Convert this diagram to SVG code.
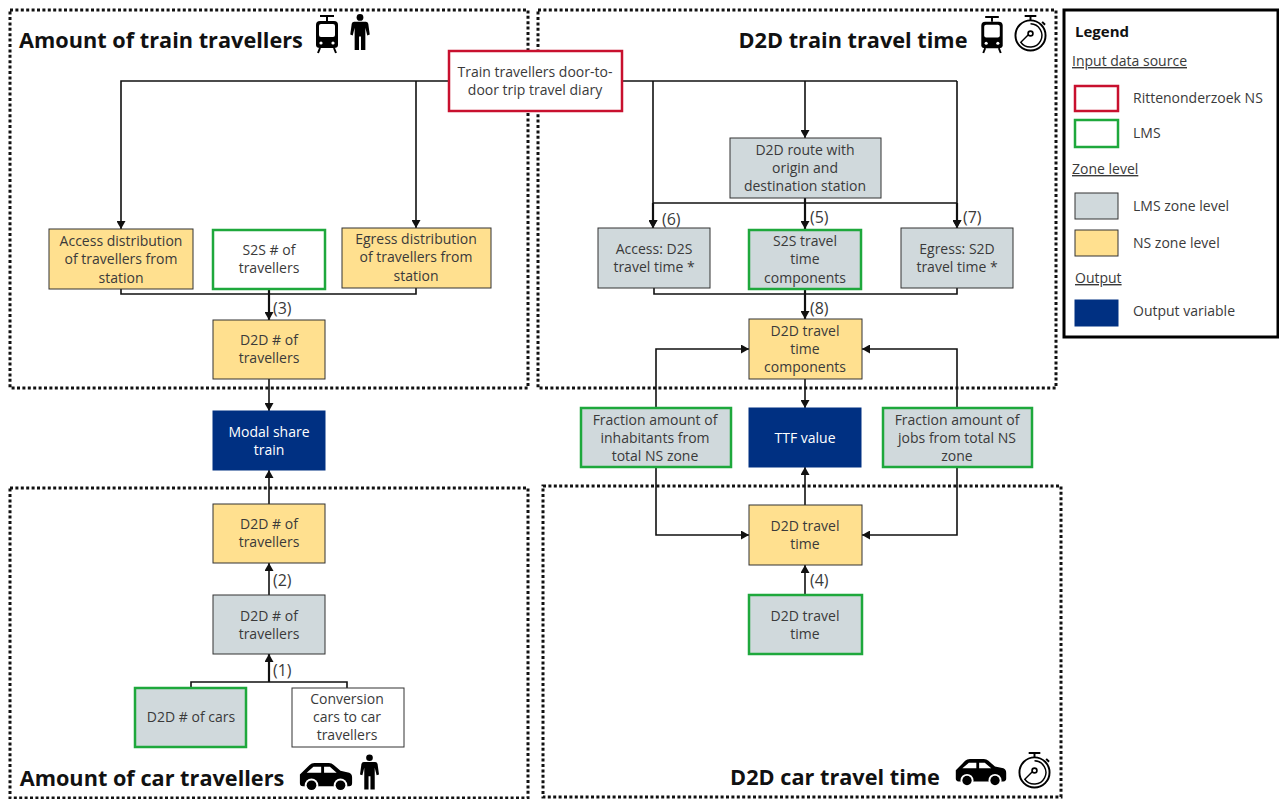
<svg xmlns="http://www.w3.org/2000/svg" width="1279" height="799" viewBox="0 0 1279 799">
<style>
text{font-family:"Open Sans","Noto Sans","Liberation Sans",sans-serif;font-size:14px;fill:#3a3a3a;text-anchor:middle}
.t{font-size:21.7px;font-weight:700;fill:#111}
.w{fill:#fff}
.l{text-anchor:start}
.u{text-anchor:start;text-decoration:underline}
.n{font-size:16px;text-anchor:start}
.panel{fill:none;stroke:#111;stroke-width:3;stroke-dasharray:3 2.4}
.y{fill:#ffe08f;stroke:#333;stroke-width:1}
.g{fill:#d0d9dc;stroke:#333;stroke-width:1}
.b{fill:#fff;stroke:#333;stroke-width:1}
.nv{fill:#003082;stroke:#003082}
.gr{stroke:#1ea83c;stroke-width:2.5}
.rd{stroke:#c8102e;stroke-width:2.5}
.c{fill:none;stroke:#111;stroke-width:1.6}
.a{fill:none;stroke:#111;stroke-width:1.6;marker-end:url(#arr)}
.k{stroke-width:2.2}
</style>
<defs>
<marker id="arr" markerUnits="userSpaceOnUse" markerWidth="9" markerHeight="9" refX="8" refY="4.5" orient="auto"><path d="M0 0L8 4.5L0 9z" fill="#111"/></marker>
<symbol id="train" viewBox="0 0 24 38" overflow="visible"><path d="M5 1H19M12 1V6" fill="none" stroke="#000" stroke-width="2"/><path d="M5 6H19Q23 6 23 10V30Q23 33 19 33H5Q1 33 1 30V10Q1 6 5 6Z" fill="#000"/><rect x="4" y="9" width="16" height="13" rx="2" fill="#fff"/><circle cx="6" cy="28" r="1.6" fill="#fff"/><circle cx="18" cy="28" r="1.6" fill="#fff"/><path d="M5 33L3 38M19 33L21 38" stroke="#000" stroke-width="2"/></symbol>
<symbol id="person" viewBox="0 0 20 38" overflow="visible"><circle cx="10" cy="3.5" r="3.5" fill="#000"/><path d="M4 8H16Q18 8 18.500 10L20 21L17.500 22L15.500 14V37H11V23H9V37H4.500V14L2.500 22L0 21L1.500 10Q2 8 4 8Z" fill="#000"/></symbol>
<symbol id="car" viewBox="0 0 56 30" overflow="visible"><path d="M1 12L11 2Q13 0 16 0H31Q34 0 36 2L43 8L52 10Q55 11 55 15V21Q55 24 52 24H4Q1 24 1 21Z" fill="#000"/><path d="M8 10L15 4H23V10ZM26 4H32L39 10H26Z" fill="#fff"/><circle cx="13" cy="23" r="7" fill="#fff"/><circle cx="13" cy="23" r="5" fill="#000"/><circle cx="43" cy="23" r="7" fill="#fff"/><circle cx="43" cy="23" r="5" fill="#000"/></symbol>
<symbol id="timer" viewBox="0 0 34 38" overflow="visible"><path d="M11 1H23M17 1V5M29 7L32 10" fill="none" stroke="#000" stroke-width="2"/><circle cx="17" cy="21" r="15.500" fill="none" stroke="#000" stroke-width="2"/><path d="M17 9A12 12 0 1 1 7 28L15 20" fill="none" stroke="#000" stroke-width="1.500"/><circle cx="17" cy="19" r="2.500" fill="none" stroke="#000" stroke-width="1.700"/></symbol>
</defs>

<g id="panels">
<rect class="panel" x="10" y="10" width="518" height="378"/>
<rect class="panel" x="538" y="10" width="518" height="378"/>
<rect class="panel" x="10" y="488" width="518" height="310"/>
<rect class="panel" x="543" y="486" width="518" height="311"/>
<text class="t" x="161" y="47.500">Amount of train travellers</text>
<text class="t" x="853" y="47.500">D2D train travel time</text>
<text class="t" x="152" y="786">Amount of car travellers</text>
<text class="t" x="835" y="785">D2D car travel time</text>
<use href="#train" x="315" y="15" width="24" height="38"/>
<use href="#person" x="350" y="14" width="20" height="37"/>
<use href="#train" x="980" y="16" width="24" height="37"/>
<use href="#timer" x="1014" y="15" width="33" height="37"/>
<use href="#car" x="298" y="763" width="56" height="29"/>
<use href="#person" x="360" y="754" width="19" height="37"/>
<use href="#car" x="953" y="759" width="56" height="28"/>
<use href="#timer" x="1018" y="752" width="33" height="37"/>
</g>

<g id="connectors">
<path class="a" d="M449 81H121V229"/>
<path class="a" d="M416 81V228"/>
<path class="c" d="M622 81H957"/>
<path class="a" d="M653 81V228"/>
<path class="a" d="M805 81V138"/>
<path class="a" d="M957 81V228"/>
<path class="c" d="M653 203H957"/>
<path class="a k" d="M653 203V228"/>
<path class="a k" d="M957 203V228"/>
<path class="a k" d="M805 198V229"/>
<path class="c" d="M121 289V294H416V288"/>
<path class="a k" d="M269 289V320"/>
<path class="a" d="M269 379V411"/>
<path class="a" d="M269 504V470"/>
<path class="a" d="M269 595V563"/>
<path class="a k" d="M269 682V654"/>
<path class="c" d="M191 688V682H347V688"/>
<path class="c" d="M654 288V294H957V288"/>
<path class="a k" d="M805 289V319"/>
<path class="a" d="M805 379V408"/>
<path class="a" d="M656 408V349H749"/>
<path class="a" d="M957 408V349H862"/>
<path class="a" d="M656 467V535H749"/>
<path class="a" d="M957 467V535H862"/>
<path class="a" d="M805 505V467"/>
<path class="a" d="M805 595V565"/>
<text class="n" x="273" y="314">(3)</text>
<text class="n" x="273" y="586">(2)</text>
<text class="n" x="273" y="676">(1)</text>
<text class="n" x="662" y="225">(6)</text>
<text class="n" x="810" y="223">(5)</text>
<text class="n" x="963" y="223">(7)</text>
<text class="n" x="810" y="314">(8)</text>
<text class="n" x="810" y="586">(4)</text>
</g>

<g id="n-diary"><rect class="b rd" x="449" y="51" width="173" height="60"/><text x="535" y="77">Train travellers door-to-</text><text x="535" y="95">door trip travel diary</text></g>
<g id="n-access-dist"><rect class="y" x="49" y="229" width="144" height="60"/><text x="121" y="246">Access distribution</text><text x="121" y="264">of travellers from</text><text x="121" y="283">station</text></g>
<g id="n-s2s-count"><rect class="b gr" x="213" y="230" width="112" height="59"/><text x="269" y="255">S2S # of</text><text x="269" y="273">travellers</text></g>
<g id="n-egress-dist"><rect class="y" x="342" y="228" width="149" height="60"/><text x="416" y="244">Egress distribution</text><text x="416" y="262">of travellers from</text><text x="416" y="281">station</text></g>
<g id="n-d2d-train"><rect class="y" x="213" y="320" width="112" height="59"/><text x="269" y="345">D2D # of</text><text x="269" y="363">travellers</text></g>
<g id="n-modal"><rect class="nv" x="213" y="411" width="112" height="59"/><text class="w" x="269" y="437">Modal share</text><text class="w" x="269" y="455">train</text></g>
<g id="n-d2d-car-ns"><rect class="y" x="213" y="504" width="112" height="59"/><text x="269" y="529">D2D # of</text><text x="269" y="547">travellers</text></g>
<g id="n-d2d-car-lms"><rect class="g" x="213" y="595" width="112" height="59"/><text x="269" y="621">D2D # of</text><text x="269" y="639">travellers</text></g>
<g id="n-cars"><rect class="g gr" x="135" y="688" width="111" height="59"/><text x="191" y="722">D2D # of cars</text></g>
<g id="n-conversion"><rect class="b" x="292" y="688" width="112" height="59"/><text x="347" y="704">Conversion</text><text x="347" y="722">cars to car</text><text x="347" y="740">travellers</text></g>
<g id="n-route"><rect class="g" x="730" y="138" width="151" height="60"/><text x="805" y="155">D2D route with</text><text x="805" y="173">origin and</text><text x="805" y="191">destination station</text></g>
<g id="n-access-time"><rect class="g" x="598" y="228" width="112" height="60"/><text x="654" y="254">Access: D2S</text><text x="654" y="272">travel time *</text></g>
<g id="n-s2s-time"><rect class="g gr" x="749" y="230" width="112" height="59"/><text x="805" y="246">S2S travel</text><text x="805" y="264">time</text><text x="805" y="283">components</text></g>
<g id="n-egress-time"><rect class="g" x="901" y="228" width="112" height="60"/><text x="957" y="254">Egress: S2D</text><text x="957" y="272">travel time *</text></g>
<g id="n-d2d-comp"><rect class="y" x="749" y="319" width="113" height="60"/><text x="805" y="336">D2D travel</text><text x="805" y="354">time</text><text x="805" y="372">components</text></g>
<g id="n-frac-inh"><rect class="g gr" x="581" y="408" width="150" height="59"/><text x="655" y="425">Fraction amount of</text><text x="655" y="443">inhabitants from</text><text x="655" y="461">total NS zone</text></g>
<g id="n-ttf"><rect class="nv" x="749" y="408" width="112" height="59"/><text class="w" x="805" y="443">TTF value</text></g>
<g id="n-frac-jobs"><rect class="g gr" x="883" y="408" width="149" height="59"/><text x="957" y="425">Fraction amount of</text><text x="957" y="443">jobs from total NS</text><text x="957" y="461">zone</text></g>
<g id="n-car-time-ns"><rect class="y" x="749" y="505" width="113" height="60"/><text x="805" y="531">D2D travel</text><text x="805" y="549">time</text></g>
<g id="n-car-time-lms"><rect class="g gr" x="749" y="595" width="113" height="59"/><text x="805" y="621">D2D travel</text><text x="805" y="639">time</text></g>

<g id="legend">
<rect x="1064" y="10" width="214" height="327" fill="#fff" stroke="#000" stroke-width="3"/>
<text class="l" x="1075" y="37" style="font-size:15px;font-weight:700;fill:#111">Legend</text>
<text class="u" x="1072" y="66">Input data source</text>
<rect class="b rd" x="1075" y="86" width="43" height="25"/><text class="l" x="1133" y="103">Rittenonderzoek NS</text>
<rect class="b gr" x="1075" y="120" width="43" height="27"/><text class="l" x="1133" y="138">LMS</text>
<text class="u" x="1072" y="174">Zone level</text>
<rect class="g" x="1075" y="193" width="43" height="26"/><text class="l" x="1133" y="211">LMS zone level</text>
<rect class="y" x="1075" y="230" width="43" height="26"/><text class="l" x="1133" y="248">NS zone level</text>
<text class="u" x="1075" y="283">Output</text>
<rect class="nv" x="1075" y="300" width="43" height="26"/><text class="l" x="1133" y="316">Output variable</text>
</g>
</svg>
